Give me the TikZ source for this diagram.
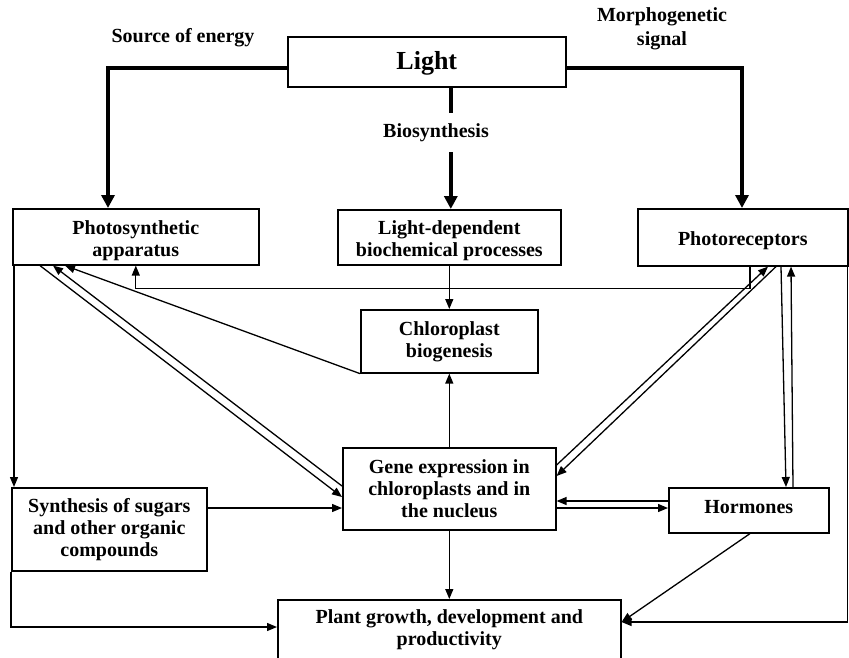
\documentclass[tikz,border=0pt]{standalone}
\usepackage{fontspec}
\setmainfont{Liberation Serif}
\usetikzlibrary{arrows.meta}
\newcommand\dfont{\fontsize{20}{22}\selectfont\bfseries}
\newcommand\bigfont{\fontsize{26}{28}\selectfont\bfseries}
\newcommand\tallrule[1]{\rule{0pt}{#1}}
\newcommand\deeprule[1]{\rule[-#1]{0pt}{0pt}}
\tikzset{
  box/.style={draw, line width=1.6pt, anchor=north west, inner sep=0pt, align=center, font=\dfont},
  lbl/.style={inner sep=0pt, align=center, font=\dfont},
  conn/.style={line width=1.3pt, -{Triangle[length=10pt,width=8pt]}},
  plain/.style={line width=1.3pt},
  thickline/.style={line width=4.5pt},
  thickarrow/.style={line width=4.5pt, -{Triangle[length=13pt,width=13pt]}}
}
\begin{document}
\begin{tikzpicture}[x=1pt,y=-1pt]
\clip (0,0) rectangle (849,657);
\fill[white] (0,0) rectangle (849,657);
% boxes
\node[box, font=\bigfont, minimum width=278pt, minimum height=50pt] (light) at (287,36) {\tallrule{22pt}Light};
\node[box, minimum width=246pt, minimum height=56pt] (ps) at (12,208) {\tallrule{21pt}Photosynthetic\\apparatus};
\node[box, minimum width=223pt, minimum height=55pt] (ld) at (337,209) {\tallrule{20pt}Light-dependent\\biochemical processes};
\node[box, minimum width=210pt, minimum height=57pt] (pr) at (637,208) {\tallrule{20pt}Photoreceptors};
\node[box, minimum width=177pt, minimum height=63pt] (cb) at (360,309) {Chloroplast\\biogenesis};
\node[box, minimum width=213pt, minimum height=82pt] (ge) at (342,447) {Gene expression in\\chloroplasts and in\\the nucleus};
\node[box, minimum width=195pt, minimum height=83pt] (sy) at (11,487) {Synthesis of sugars\\and other organic\\compounds};
\node[box, minimum width=160pt, minimum height=45pt] (ho) at (668,487) {Hormones\deeprule{6pt}};
\node[box, minimum width=343pt, minimum height=60pt] (pl) at (277,599) {Plant growth, development and\\productivity};
% labels
\node[lbl] (src) at (183,38) {Source of energy};
\node[lbl, font=\fontsize{20}{24}\selectfont\bfseries] (morph) at (662,29) {Morphogenetic\\signal};
\node[lbl, minimum height=39pt] (bio) at (436,132.5) {Biosynthesis};
% thick connectors from Light
\draw[thickarrow] ([yshift=-6pt]light.west) -| ([xshift=96pt]ps.north west);
\draw[thickarrow] ([yshift=-6pt]light.east) -| ([xshift=105pt]pr.north west);
\draw[thickline] ([xshift=1.5pt]ld.north |- light.south) -- ([xshift=1.5pt]ld.north |- bio.north);
\draw[thickarrow] ([xshift=1.5pt]ld.north |- bio.south) -- ([xshift=1.5pt]ld.north);
% thin connectors
\draw[conn] ([xshift=113pt]pr.south west) -- ++(0,22) -| (ps.south);
\draw[conn] (ld.south) -- (cb.north);
\draw[conn] (cb.south west) -- ([xshift=53pt]ps.south west);
\draw[conn] (ge.north) -- (cb.south);
\draw[conn] ([xshift=28pt]ps.south west) -- ([yshift=-50pt]ge.north west);
\draw[conn] ([yshift=-39pt]ge.north west) -- ([xshift=41pt]ps.south west);
\draw[conn] ([yshift=-18pt]ge.north east) -- ([xshift=131pt]pr.south west);
\draw[conn] ([xshift=139pt]pr.south west) -- ([yshift=-29pt]ge.north east);
\draw[conn] ([xshift=144pt]pr.south west) -- ([xshift=118pt]ho.north west);
\draw[conn] ([xshift=125pt]ho.north west) -- ([xshift=154pt]pr.south west);
\draw[conn] ([yshift=-14pt]ho.north west) -- ([yshift=-54pt]ge.north east);
\draw[conn] ([yshift=-61pt]ge.north east) -- ([yshift=-21pt]ho.north west);
\draw[conn] ([yshift=-21pt]sy.north east) -- ([yshift=-61pt]ge.north west);
\draw[conn] ([xshift=2pt]ps.south west) -- ([xshift=2pt]ps.south west |- sy.north);
\draw[conn] (sy.south west) |- ([yshift=-28pt]pl.north west);
\draw[conn] (ge.south) -- (pl.north);
\draw[conn] ([xshift=82pt]ho.south west) -- ([yshift=-23pt]pl.north east);
\draw[conn] ([xshift=-1pt]pr.south east) |- ([yshift=-23pt]pl.north east);
\end{tikzpicture}
\end{document}
